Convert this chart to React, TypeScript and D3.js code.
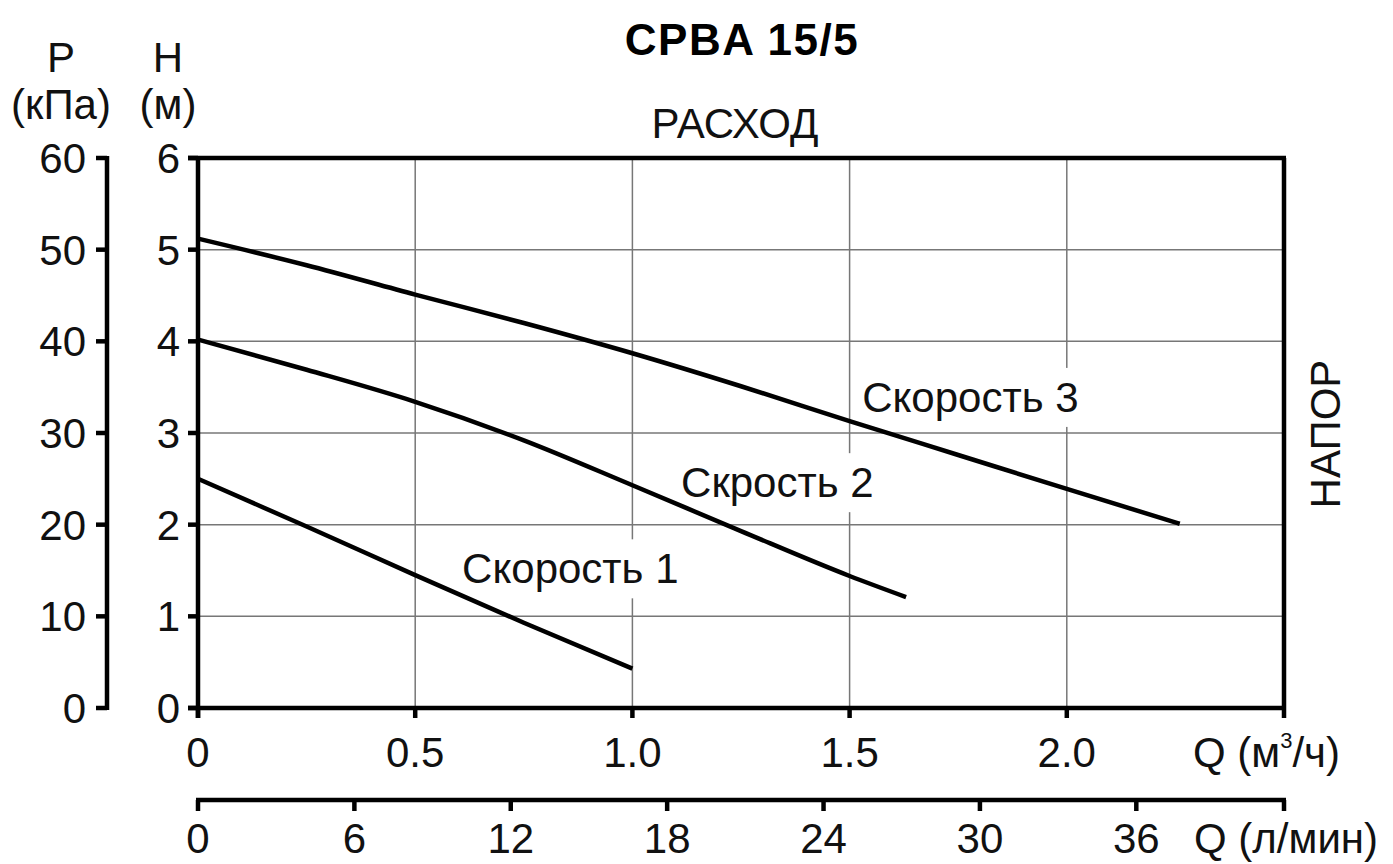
import React, { useEffect, useRef } from 'react';
import * as d3 from 'd3';

// pump curves, flow Q in m3/h, head H in m
const speed1Q = [0, 0.25, 0.5, 0.75, 1.0];
const speed1H = [2.5, 1.98, 1.45, 0.93, 0.43];
const speed2Q = [0, 0.25, 0.5, 0.75, 1.0, 1.25, 1.5, 1.63];
const speed2H = [4.02, 3.69, 3.34, 2.92, 2.43, 1.93, 1.44, 1.21];
const speed3Q = [0, 0.25, 0.5, 0.75, 1.0, 1.25, 1.5, 1.75, 2.0, 2.26];
const speed3H = [5.12, 4.83, 4.51, 4.2, 3.87, 3.51, 3.13, 2.76, 2.39, 2.01];

const curveNames = ['Скорость 1', 'Скрость 2', 'Скорость 3'];

// axis ticks
const hTicks = [0, 1, 2, 3, 4, 5, 6];
const pTicks = [0, 10, 20, 30, 40, 50, 60];
const qTicks = [0, 0.5, 1.0, 1.5, 2.0];
const qTickLabels = ['0', '0.5', '1.0', '1.5', '2.0'];
const lpmTicks = [0, 6, 12, 18, 24, 30, 36];

const FONT = '"Liberation Sans", Arial, sans-serif';

export default function App() {
  const svgRef = useRef<SVGSVGElement | null>(null);

  const width = 1393;
  const height = 864;
  const left = 198;
  const right = 1284;
  const top = 158;
  const bottom = 708;
  const lpmAxisY = 800;

  useEffect(() => {
    const svg = d3.select(svgRef.current);
    svg.selectAll('*').remove();

    const x = d3.scaleLinear().domain([0, 2.5]).range([left, right]);
    const y = d3.scaleLinear().domain([0, 6]).range([bottom, top]);
    const yP = d3.scaleLinear().domain([0, 60]).range([bottom, top]);
    const xL = d3.scaleLinear().domain([0, 2.5 * 1000 / 60]).range([left, right]);

    // grid
    const grid = svg.append('g').attr('stroke', '#777').attr('stroke-width', 1.5);
    grid
      .selectAll('.vgrid')
      .data(qTicks.filter((d) => d > 0))
      .join('line')
      .attr('x1', (d) => x(d))
      .attr('x2', (d) => x(d))
      .attr('y1', top)
      .attr('y2', bottom);
    grid
      .selectAll('.hgrid')
      .data(hTicks.filter((d) => d > 0 && d < 6))
      .join('line')
      .attr('x1', left)
      .attr('x2', right)
      .attr('y1', (d) => y(d))
      .attr('y2', (d) => y(d));

    const maskG = svg.append('g');

    // curves
    const line = d3
      .line<[number, number]>()
      .x((d) => x(d[0]))
      .y((d) => y(d[1]))
      .curve(d3.curveMonotoneX);
    const series: [number, number][][] = [
      speed1Q.map((q, i) => [q, speed1H[i]]),
      speed2Q.map((q, i) => [q, speed2H[i]]),
      speed3Q.map((q, i) => [q, speed3H[i]]),
    ];
    svg
      .append('g')
      .selectAll('path')
      .data(series)
      .join('path')
      .attr('d', (d) => line(d))
      .attr('fill', 'none')
      .attr('stroke', '#000')
      .attr('stroke-width', 4.5);

    // curve labels (anchor in Q / H units)
    const labelPos = [
      [0.608, 1.36],
      [1.112, 2.3],
      [1.529, 3.23],
    ];
    const labels = svg
      .append('g')
      .selectAll('text')
      .data(curveNames)
      .join('text')
      .attr('x', (d, i) => x(labelPos[i][0]))
      .attr('y', (d, i) => y(labelPos[i][1]))
      .attr('font-family', FONT)
      .attr('font-size', 42)
      .attr('fill', '#111')
      .text((d) => d);
    labels.each(function () {
      const b = (this as SVGTextElement).getBBox();
      maskG
        .append('rect')
        .attr('x', b.x - 6)
        .attr('y', b.y - 6)
        .attr('width', b.width + 12)
        .attr('height', b.height + 12)
        .attr('fill', '#fff');
    });

    // frame + tick marks
    const frame = svg
      .append('g')
      .attr('stroke', '#000')
      .attr('stroke-width', 4.5)
      .attr('fill', 'none');
    frame.append('line').attr('x1', left - 10).attr('x2', right + 2).attr('y1', top).attr('y2', top);
    frame.append('line').attr('x1', left - 10).attr('x2', right + 2).attr('y1', bottom).attr('y2', bottom);
    frame.append('line').attr('x1', left).attr('x2', left).attr('y1', top).attr('y2', bottom + 10);
    frame.append('line').attr('x1', right).attr('x2', right).attr('y1', top).attr('y2', bottom + 10);
    frame
      .selectAll('.htick')
      .data(hTicks)
      .join('line')
      .attr('x1', left - 10)
      .attr('x2', left)
      .attr('y1', (d) => y(d))
      .attr('y2', (d) => y(d));
    frame
      .selectAll('.qtick')
      .data(qTicks)
      .join('line')
      .attr('x1', (d) => x(d))
      .attr('x2', (d) => x(d))
      .attr('y1', bottom)
      .attr('y2', bottom + 10);

    // P axis
    const pX = 107;
    frame.append('line').attr('x1', pX).attr('x2', pX).attr('y1', top - 2).attr('y2', bottom + 2);
    frame
      .selectAll('.ptick')
      .data(pTicks)
      .join('line')
      .attr('x1', pX - 11)
      .attr('x2', pX)
      .attr('y1', (d) => yP(d))
      .attr('y2', (d) => yP(d));

    // l/min axis
    frame.append('line').attr('x1', left - 2).attr('x2', right + 2).attr('y1', lpmAxisY).attr('y2', lpmAxisY);
    frame
      .selectAll('.ltick')
      .data([...lpmTicks, 2.5 * 1000 / 60])
      .join('line')
      .attr('x1', (d) => xL(d))
      .attr('x2', (d) => xL(d))
      .attr('y1', lpmAxisY)
      .attr('y2', lpmAxisY + 11);

    // tick labels
    const txt = svg
      .append('g')
      .attr('font-family', FONT)
      .attr('font-size', 42)
      .attr('fill', '#111');
    txt
      .selectAll('.hl')
      .data(hTicks)
      .join('text')
      .attr('x', 180)
      .attr('y', (d) => y(d))
      .attr('dy', '0.36em')
      .attr('text-anchor', 'end')
      .text((d) => d);
    txt
      .selectAll('.pl')
      .data(pTicks)
      .join('text')
      .attr('x', 86)
      .attr('y', (d) => yP(d))
      .attr('dy', '0.36em')
      .attr('text-anchor', 'end')
      .text((d) => d);
    txt
      .selectAll('.ql')
      .data(qTicks)
      .join('text')
      .attr('x', (d) => x(d))
      .attr('y', 767)
      .attr('text-anchor', 'middle')
      .text((d, i) => qTickLabels[i]);
    txt
      .selectAll('.ll')
      .data(lpmTicks)
      .join('text')
      .attr('x', (d) => xL(d))
      .attr('y', 853)
      .attr('text-anchor', 'middle')
      .text((d) => d);

    // axis titles
    const q1 = txt.append('text').attr('x', 1193).attr('y', 767);
    q1.append('tspan').text('Q (м');
    q1.append('tspan').attr('font-size', 22).attr('dy', -19).text('3');
    q1.append('tspan').attr('dy', 19).text('/ч)');
    txt.append('text').attr('x', 1194).attr('y', 853).text('Q (л/мин)');

    txt.append('text').attr('x', 61).attr('y', 72).attr('text-anchor', 'middle').text('P');
    txt.append('text').attr('x', 61).attr('y', 119).attr('text-anchor', 'middle').text('(кПа)');
    txt.append('text').attr('x', 168).attr('y', 72).attr('text-anchor', 'middle').text('H');
    txt.append('text').attr('x', 168).attr('y', 119).attr('text-anchor', 'middle').text('(м)');

    txt.append('text').attr('x', 735).attr('y', 138).attr('text-anchor', 'middle').text('РАСХОД');
    txt
      .append('text')
      .attr('transform', 'translate(1340, 434) rotate(-90)')
      .attr('text-anchor', 'middle')
      .text('НАПОР');

    txt
      .append('text')
      .attr('x', 742)
      .attr('y', 55)
      .attr('text-anchor', 'middle')
      .attr('font-weight', 'bold')
      .attr('font-size', 44)
      .attr('letter-spacing', 1.5)
      .attr('fill', '#000')
      .text('CPBA 15/5');
  });

  return (
    <svg
      ref={svgRef}
      width={width}
      height={height}
      style={{ position: 'absolute', left: 0, top: 0, background: '#fff' }}
    ></svg>
  );
}
